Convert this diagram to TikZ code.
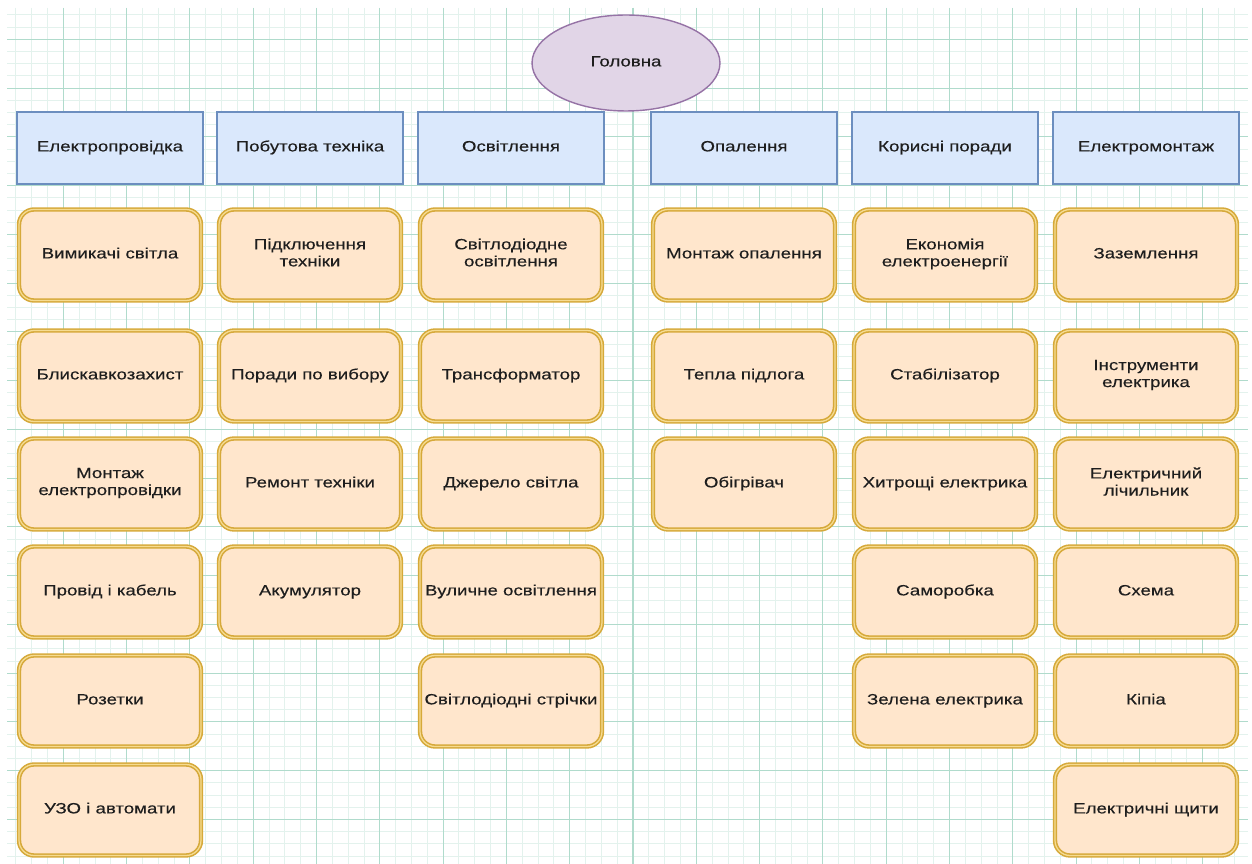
\documentclass[tikz,border=0pt]{standalone}
\usepackage{fontspec}
\setmainfont[FakeStretch=1.25,FakeBold=0.25]{Liberation Sans}
\usetikzlibrary{shapes.geometric}

\definecolor{gridminor}{HTML}{E3F2ED}
\definecolor{gridmajor}{HTML}{B0DBCC}
\definecolor{headfill}{HTML}{E1D5E7}
\definecolor{headline}{HTML}{9673A6}
\definecolor{catfill}{HTML}{DAE8FC}
\definecolor{catline}{HTML}{6C8EBF}
\definecolor{itemfill}{HTML}{FFE6CC}
\definecolor{itemline}{HTML}{D6A93A}
\definecolor{itemgap}{HTML}{F6DC92}
\definecolor{txt}{HTML}{1E1E1E}

\begin{document}
\begin{tikzpicture}[x=0.02cm,y=-0.02cm,font=\fontsize{8.5}{9.7}\selectfont,text=txt]
    \tikzstyle{head}=[ellipse,draw=headline,fill=headfill,line width=0.8pt,minimum width=3.76cm,minimum height=1.92cm,inner sep=0pt]
    \tikzstyle{cat}=[rectangle,draw=catline,fill=catfill,line width=0.8pt,minimum width=3.72cm,minimum height=1.44cm,inner sep=0pt]
    \tikzstyle{item}=[rectangle,rounded corners=0.3cm,draw=itemline,double=itemgap,double distance=0.7pt,line width=0.9pt,fill=itemfill,minimum width=3.64cm,minimum height=1.82cm,inner sep=0pt,align=center]
    \tikzset{every node/.append style={execute at begin node=\strut,execute at end node=\strut}}

    \useasboundingbox[fill=white] (0,0) rectangle (1252,864);

    % grid
    \foreach \k in {1,...,78}
        \draw[gridminor,line width=0.5pt] (\k*15.825,8) -- (\k*15.825,864);
    \foreach \k in {-2,...,67}
        \draw[gridminor,line width=0.5pt] (7,39.3+\k*12.19) -- (1248,39.3+\k*12.19);
    \foreach \k in {4,8,...,76}
        \draw[gridmajor,line width=0.6pt] (\k*15.825,8) -- (\k*15.825,864);
    \foreach \k in {0,4,...,64}
        \draw[gridmajor,line width=0.6pt] (7,39.3+\k*12.19) -- (1248,39.3+\k*12.19);

    \node[head] (main) at (626,63) {Головна};

    \foreach \name/\x/\txt in {wiring/110/Електропровідка, appliances/310/Побутова техніка,
            lighting/511/Освітлення, heating/744/Опалення, tips/945/Корисні поради,
            install/1146/Електромонтаж}
        \node[cat] (\name) at (\x,148) {\txt};

    % Електропровідка
    \node[item] (switches) at (110,255) {Вимикачі світла};
    \node[item] (lightning) at (110,376) {Блискавкозахист};
    \node[item] (wiremount) at (110,484) {Монтаж\\електропровідки};
    \node[item] (cable) at (110,592) {Провід і кабель};
    \node[item] (sockets) at (110,701) {Розетки};
    \node[item] (breakers) at (110,810) {УЗО і автомати};

    % Побутова техніка
    \node[item] (connect) at (310,255) {Підключення\\техніки};
    \node[item] (choice) at (310,376) {Поради по вибору};
    \node[item] (repair) at (310,484) {Ремонт техніки};
    \node[item] (battery) at (310,592) {Акумулятор};

    % Освітлення
    \node[item] (ledlight) at (511,255) {Світлодіодне\\освітлення};
    \node[item] (transformer) at (511,376) {Трансформатор};
    \node[item] (source) at (511,484) {Джерело світла};
    \node[item] (street) at (511,592) {Вуличне освітлення};
    \node[item] (ledstrip) at (511,701) {Світлодіодні стрічки};

    % Опалення
    \node[item] (heatmount) at (744,255) {Монтаж опалення};
    \node[item] (floor) at (744,376) {Тепла підлога};
    \node[item] (heater) at (744,484) {Обігрівач};

    % Корисні поради
    \node[item] (saving) at (945,255) {Економія\\електроенергії};
    \node[item] (stabilizer) at (945,376) {Стабілізатор};
    \node[item] (tricks) at (945,484) {Хитрощі електрика};
    \node[item] (diy) at (945,592) {Саморобка};
    \node[item] (green) at (945,701) {Зелена електрика};

    % Електромонтаж
    \node[item] (ground) at (1146,255) {Заземлення};
    \node[item] (tools) at (1146,376) {Інструменти\\електрика};
    \node[item] (meter) at (1146,484) {Електричний\\лічильник};
    \node[item] (scheme) at (1146,592) {Схема};
    \node[item] (kipia) at (1146,701) {Кіпіа};
    \node[item] (panels) at (1146,810) {Електричні щити};
\end{tikzpicture}
\end{document}
